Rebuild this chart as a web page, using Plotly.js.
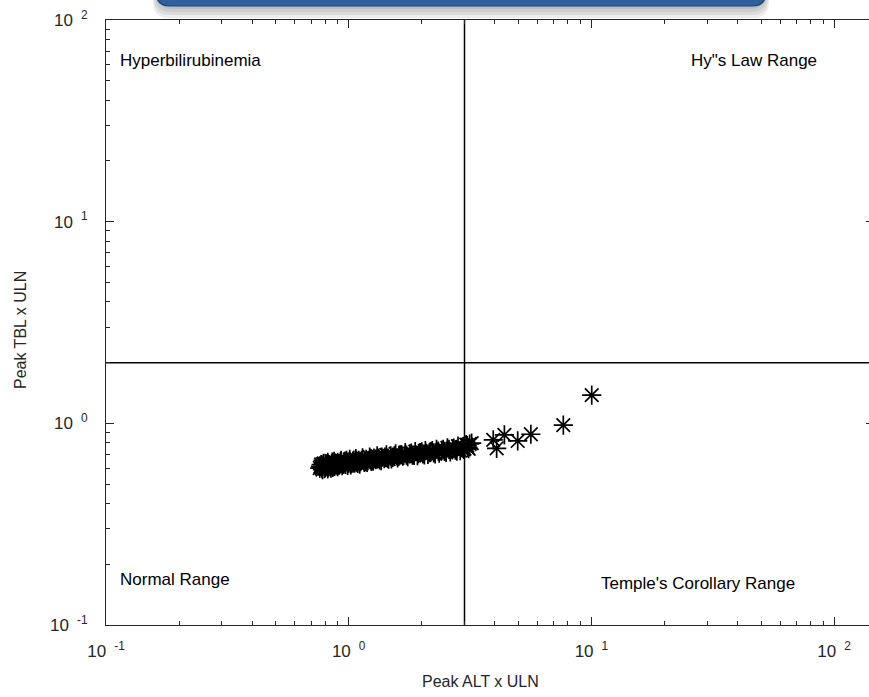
<!DOCTYPE html>
<html>
<head>
<meta charset="utf-8">
<script src="https://cdn.plot.ly/plotly-3.0.1.min.js"></script>
<style>
html,body{margin:0;padding:0;background:#fff;overflow:hidden;}
#chart{width:880px;height:697px;}
</style>
</head>
<body>
<div id="chart"></div>
<script>
// ---- data ----
const altPeak = [
  0.76,0.77,0.78,0.78,0.79,0.80,0.81,0.82,0.82,0.84,0.85,0.86,0.87,0.88,0.90,0.90,
  0.92,0.93,0.94,0.96,0.97,0.98,1.00,1.01,1.02,1.04,1.06,1.07,1.09,1.10,1.12,1.14,
  1.16,1.18,1.20,1.22,1.24,1.27,1.29,1.31,1.34,1.37,1.40,1.43,1.46,1.49,1.52,1.56,
  1.59,1.63,1.67,1.71,1.75,1.79,1.83,1.88,1.92,1.97,2.02,2.07,2.12,2.18,2.24,2.30,
  2.36,2.42,2.48,2.55,2.62,2.68,2.75,2.82,2.88,2.95,3.00,3.05,3.10,
  0.765,0.775,0.785,0.795,0.805,0.815,0.83,0.845,0.855,0.875,0.89,0.91,0.925,0.95,0.965,0.99,
  1.005,1.03,1.05,1.08,1.11,1.13,1.17,1.19,1.23,1.26,1.30,1.33,1.36,1.41,1.45,1.50,
  1.54,1.61,1.65,1.73,1.81,1.86,1.94,2.00,2.05,2.15,2.21,2.27,2.34,2.45,2.52,2.59,
  2.71,2.79,2.92,2.98,3.08,3.15,3.12,
  3.21,3.94,4.07,4.38,4.97,5.63,7.66,10.03
];
const tblPeak = [
  0.600,0.625,0.590,0.612,0.633,0.603,0.620,0.595,0.640,0.614,0.630,0.604,0.648,0.622,0.610,0.641,
  0.630,0.656,0.616,0.640,0.625,0.655,0.634,0.663,0.622,0.649,0.637,0.669,0.632,0.655,0.646,0.674,
  0.641,0.663,0.653,0.681,0.648,0.672,0.660,0.690,0.658,0.681,0.668,0.697,0.665,0.690,0.678,0.706,
  0.674,0.698,0.687,0.715,0.683,0.706,0.696,0.724,0.692,0.715,0.705,0.733,0.702,0.724,0.714,0.744,
  0.711,0.735,0.726,0.755,0.722,0.748,0.737,0.770,0.733,0.763,0.750,0.784,0.757,
  0.612,0.600,0.628,0.596,0.632,0.608,0.625,0.600,0.642,0.612,0.632,0.620,0.645,0.628,0.650,0.618,
  0.645,0.632,0.658,0.645,0.628,0.655,0.650,0.640,0.660,0.650,0.665,0.672,0.654,0.680,0.672,0.666,
  0.690,0.688,0.700,0.695,0.712,0.694,0.708,0.722,0.698,0.716,0.732,0.706,0.728,0.744,0.718,0.742,
  0.754,0.728,0.760,0.742,0.775,0.790,0.748,
  0.797,0.828,0.752,0.876,0.818,0.883,0.980,1.380
];
const altLimit = 3;   // 3 x ULN
const tblLimit = 2;   // 2 x ULN
const xRangeData = [0.1, 146];
const yRangeData = [0.1, 100];
const majorVals = [0.1, 1, 10, 100];
const majorText = ['10&nbsp;<sup>&nbsp;-1</sup>', '10&nbsp;<sup>&nbsp;0</sup>', '10&nbsp;<sup>&nbsp;1</sup>', '10&nbsp;<sup>&nbsp;2</sup>'];
const minorX = [0.2,0.3,0.4,0.5,0.6,0.7,0.8,0.9,2,3,4,5,6,7,8,9,20,30,40,50,60,70,80,90];
const minorY = [0.2,0.3,0.4,0.5,0.6,0.7,0.8,0.9,2,3,4,5,6,7,8,9,20,30,40,50,60,70,80,90];
const regionLabels = ['Hyperbilirubinemia', 'Hy"s Law Range', 'Normal Range', "Temple's Corollary Range"];

// ---- geometry helpers (pixel -> paper) ----
const L = 106, T = 20, PW = 768, PH = 605;
const px = v => (v - L) / PW;
const py = v => (T + PH - v) / PH;
function roundedBottom(x0, x1, yb, r, ytop) {
  return `M ${px(x0)},${py(ytop)} L ${px(x0)},${py(yb - r)} Q ${px(x0)},${py(yb)} ${px(x0 + r)},${py(yb)} ` +
         `L ${px(x1 - r)},${py(yb)} Q ${px(x1)},${py(yb)} ${px(x1)},${py(yb - r)} L ${px(x1)},${py(ytop)} Z`;
}
const shapes = [];
[18, 15, 12, 9].forEach((b, i) => {
  shapes.push({type: 'path', xref: 'paper', yref: 'paper', layer: 'above',
    path: roundedBottom(156 - 3 + i, 766 + 3 - i, b, 16, -40),
    fillcolor: 'rgba(0,0,0,0.07)', line: {width: 0}});
});
shapes.push({type: 'path', xref: 'paper', yref: 'paper', layer: 'above',
  path: roundedBottom(156, 766, 6, 14, -40), fillcolor: '#30609c',
  line: {color: '#1f4274', width: 1.2}});

const font = 'Liberation Sans, Arial, Helvetica, sans-serif';

const traces = [
  {x: [altLimit, altLimit], y: yRangeData, mode: 'lines', line: {color: '#000', width: 1.5},
   hoverinfo: 'skip'},
  {x: xRangeData, y: [tblLimit, tblLimit], mode: 'lines', line: {color: '#000', width: 1.5},
   hoverinfo: 'skip'},
  {x: altPeak, y: tblPeak, mode: 'markers', type: 'scatter',
   marker: {symbol: 'asterisk-open', size: 16, color: '#000', line: {color: '#000', width: 1.7}}}
];

const axisCommon = {
  type: 'log', showgrid: false, zeroline: false, showline: true, linecolor: '#262626', linewidth: 1,
  mirror: 'ticks', ticks: 'inside', ticklen: 8, tickwidth: 1, tickcolor: '#262626',
  tickmode: 'array', tickvals: majorVals, ticktext: majorText,
  tickfont: {family: font, size: 17, color: '#262626'}
};

const layout = {
  width: 880, height: 697,
  margin: {l: L, t: T, r: 880 - L - PW, b: 697 - T - PH},
  paper_bgcolor: '#fff', plot_bgcolor: '#fff', showlegend: false,
  font: {family: font, color: '#000'},
  xaxis: Object.assign({}, axisCommon, {
    range: [Math.log10(xRangeData[0]), Math.log10(xRangeData[1])],
    minor: {tickmode: 'array', tickvals: minorX, ticks: 'inside', ticklen: 4, tickcolor: '#262626'},
    ticklabelstandoff: 11
  }),
  yaxis: Object.assign({}, axisCommon, {
    range: [Math.log10(yRangeData[0]), Math.log10(yRangeData[1])],
    minor: {tickmode: 'array', tickvals: minorY, ticks: 'inside', ticklen: 4, tickcolor: '#262626'},
    ticklabelstandoff: 14
  }),
  shapes: shapes,
  annotations: [
    {text: regionLabels[0], xref: 'paper', yref: 'paper', x: px(118), y: py(61), xanchor: 'left', yanchor: 'middle', showarrow: false, font: {size: 17}},
    {text: regionLabels[1], xref: 'paper', yref: 'paper', x: px(819), y: py(61), xanchor: 'right', yanchor: 'middle', showarrow: false, font: {size: 17}},
    {text: regionLabels[2], xref: 'paper', yref: 'paper', x: px(118), y: py(579), xanchor: 'left', yanchor: 'middle', showarrow: false, font: {size: 17}},
    {text: regionLabels[3], xref: 'paper', yref: 'paper', x: px(599), y: py(583), xanchor: 'left', yanchor: 'middle', showarrow: false, font: {size: 17}},
    {text: 'Peak ALT x ULN', xref: 'paper', yref: 'paper', x: px(480), y: py(681), xanchor: 'center', yanchor: 'middle', showarrow: false, font: {size: 16, color: '#262626'}},
    {text: 'Peak TBL x ULN', xref: 'paper', yref: 'paper', x: px(20), y: py(330), xanchor: 'center', yanchor: 'middle', textangle: -90, showarrow: false, font: {size: 16, color: '#262626'}}
  ]
};

Plotly.newPlot('chart', traces, layout, {displayModeBar: false, staticPlot: true});
</script>
</body>
</html>
